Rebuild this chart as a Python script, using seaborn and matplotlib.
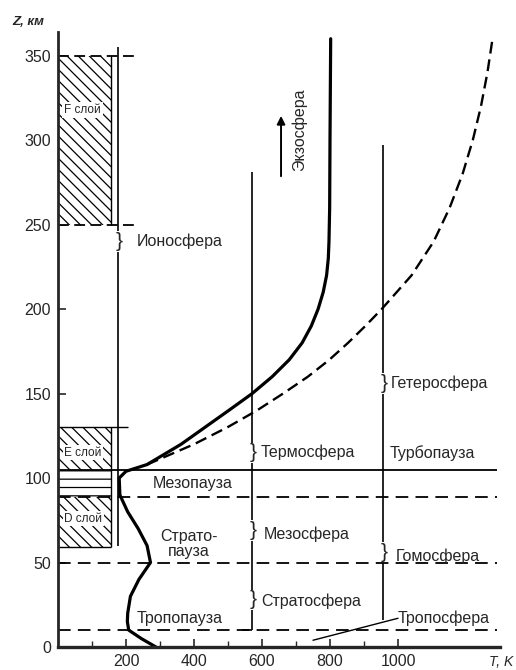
import numpy as np
import pandas as pd
import seaborn as sns
import matplotlib.pyplot as plt

# temperature profile (T in K, Z in km)
z_solid = [0, 5, 10, 15, 20, 30, 40, 50, 60, 70, 80, 90, 100, 104, 108, 120, 130, 140, 150,
           160, 170, 180, 190, 200, 210, 220, 230, 240, 260, 300, 360]
t_solid = [288, 245, 208, 204, 205, 213, 238, 272, 262, 236, 205, 182, 180, 200, 262, 362, 432, 502, 571,
           630, 680, 718, 745, 765, 780, 790, 795, 797, 799, 800, 802]

# second (dashed) profile of the thermosphere
z_dash = [108, 120, 130, 140, 150, 160, 170, 180, 190, 200, 220, 240, 260, 280, 300, 320, 340, 360]
t_dash = [262, 400, 498, 585, 662, 735, 798, 853, 904, 952, 1040, 1105, 1152, 1190, 1220, 1244, 1263, 1278]

# layer boundaries, km
turbopause = 105
dashed_levels = [89, 50, 10]
f_layer = (250, 350)
e_layer = (105, 130)
e_mix = (89, 105)
d_layer = (59, 89)

x_ticks = [200, 400, 600, 800, 1000]
y_ticks = [0, 50, 100, 150, 200, 250, 300, 350]

sns.set_style("ticks")
plt.rcParams['font.family'] = ['Liberation Sans', 'DejaVu Sans']
plt.rcParams['hatch.linewidth'] = 0.9

fig = plt.figure(figsize=(5.16, 6.70), dpi=100)
ax = fig.add_axes([58/516, 23/670, 442/516, 615/670])
ax.set_xlim(0, 1300)
ax.set_ylim(0, 364)

# hatched ionosphere layers
box_w = 155
for lo, hi in [f_layer, e_layer, d_layer]:
    ax.fill_betweenx([lo, hi], 0, box_w, facecolor='white', edgecolor='black', hatch='\\\\\\', lw=0)
ax.fill_betweenx(list(e_mix), 0, box_w, facecolor='white', edgecolor='black', hatch='--', lw=0)
ax.vlines(box_w, f_layer[0], f_layer[1], color='black', lw=1)
ax.vlines(box_w, d_layer[0], e_layer[1], color='black', lw=1)
ax.hlines(d_layer[0], 0, box_w, color='black', lw=1)
ax.hlines(e_layer[1], 0, 205, color='black', lw=1)
for lev in f_layer:
    ax.hlines(lev, 0, 228, color='black', lw=1.3, linestyles=(0, (6, 3)))

ax.text(18, 318, "F слой", fontsize=8.5, va='center', bbox=dict(fc='white', ec='none', pad=1.5))
ax.text(18, 115, "E слой", fontsize=8.5, va='center', bbox=dict(fc='white', ec='none', pad=1))
ax.text(18, 76, "D слой", fontsize=8.5, va='center', bbox=dict(fc='white', ec='none', pad=1))

# level lines
ax.hlines(turbopause, 0, 1290, color='black', lw=1.3)
ax.hlines(dashed_levels, 0, 1290, color='black', lw=1.3, linestyles=(0, (7, 4)))

# bracket columns (T position, segments)
brackets = [
    (175, [(60, 234), (246, 355)]),
    (570, [(10, 22), (34, 63), (75, 109), (121, 281)]),
    (955, [(16, 50), (62, 150), (162, 297)]),
]
for xb, segs in brackets:
    for lo, hi in segs:
        ax.vlines(xb, lo, hi, color='black', lw=1.2)
ax.hlines(10, 540, 570, color='black', lw=1.2)

braces = [(175, 240), (570, 115), (570, 69), (570, 28), (955, 156), (955, 56)]
for xb, zb in braces:
    ax.text(xb - 6, zb, "}", fontsize=15, ha='left', va='center')

# temperature curves
df_solid = pd.DataFrame({"T": t_solid, "Z": z_solid})
df_dash = pd.DataFrame({"T": t_dash, "Z": z_dash})
sns.lineplot(data=df_solid, x="T", y="Z", sort=False, estimator=None, color='black', lw=2.3, ax=ax)
sns.lineplot(data=df_dash, x="T", y="Z", sort=False, estimator=None, color='black', lw=1.7, ax=ax)
ax.lines[-1].set_dashes((5, 2.5))

# leader for troposphere label
ax.plot([750, 1000], [4, 17], color='black', lw=1)

fs = 11.5
labels = [
    ("Ионосфера", 232, 240, 'left'),
    ("Термосфера", 597, 115, 'left'),
    ("Турбопауза", 975, 115, 'left'),
    ("Гетеросфера", 980, 156, 'left'),
    ("Мезопауза", 395, 97, 'center'),
    ("Страто-\nпауза", 385, 61, 'center'),
    ("Мезосфера", 606, 67, 'left'),
    ("Гомосфера", 994, 54, 'left'),
    ("Стратосфера", 597, 27, 'left'),
    ("Тропопауза", 232, 17, 'left'),
    ("Тропосфера", 1000, 17, 'left'),
]
for txt, xt, zt, ha in labels:
    ax.text(xt, zt, txt, fontsize=fs, ha=ha, va='center', linespacing=1.05)

ax.text(709, 306, "Экзосфера", fontsize=fs, rotation=90, ha='center', va='center')
ax.annotate('', xy=(656, 316), xytext=(656, 277),
            arrowprops=dict(arrowstyle='-|>', color='black', lw=1.4, mutation_scale=12))

# axes look
sns.despine(ax=ax)
ax.spines['left'].set_linewidth(2)
ax.spines['bottom'].set_linewidth(2.4)
ax.set_xticks(x_ticks)
ax.set_xticks(np.arange(100, 1100, 100), minor=True)
ax.set_yticks(y_ticks)
ax.tick_params(axis='both', which='major', direction='in', length=6, width=1.2, labelsize=fs, pad=5)
ax.tick_params(axis='x', which='minor', direction='in', length=4, width=1)
ax.set_xlabel("")
ax.set_ylabel("")

fig.text(12/516, 1 - 22/670, "Z, км", fontsize=9.5, fontstyle='italic', fontweight='bold', va='center')
fig.text(513/516, 1 - 662/670, "T, K", fontsize=10, fontstyle='italic', ha='right', va='center')

fig.savefig("out.png", dpi=100)
